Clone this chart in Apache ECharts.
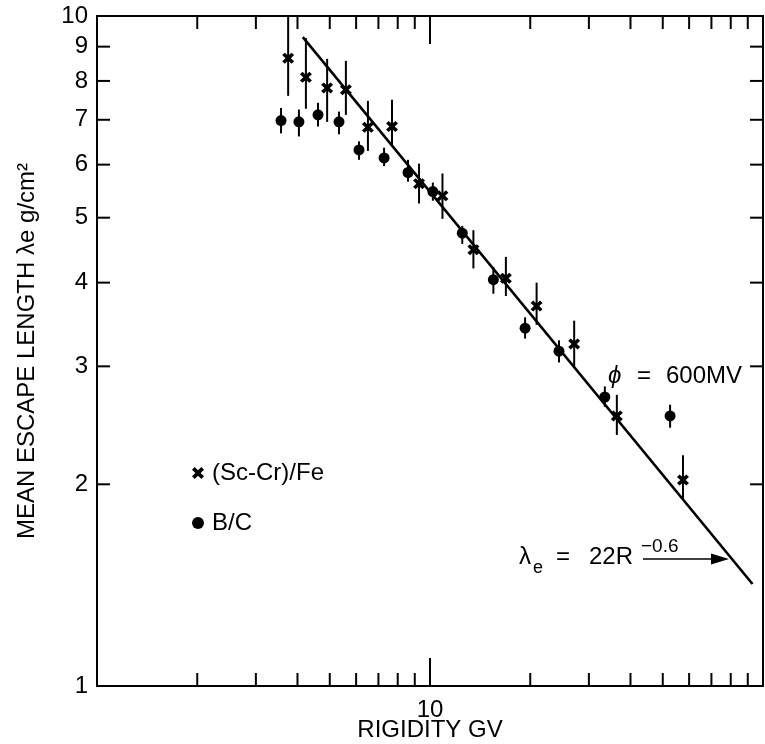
<!DOCTYPE html>
<html><head><meta charset="utf-8">
<script src="https://cdn.jsdelivr.net/npm/echarts@6/dist/echarts.min.js"></script>
<style>html,body{margin:0;padding:0;background:#fff}#c{width:765px;height:744px}</style>
</head><body><div id="c"></div>
<script>
// (Sc-Cr)/Fe : rigidity (GV), mean escape length, error bar low / high
const SCCR_R  = [3.75, 4.24, 4.91, 5.59, 6.51, 7.69, 9.27, 10.9, 13.5, 16.9, 20.9, 27.1, 36.4, 57.5];
const SCCR_L  = [8.65, 8.10, 7.81, 7.76, 6.82, 6.84, 5.62, 5.39, 4.48, 4.06, 3.69, 3.24, 2.53, 2.03];
const SCCR_LO = [7.60, 7.27, 6.95, 7.12, 6.29, 6.39, 5.25, 4.98, 4.20, 3.82, 3.46, 3.00, 2.37, 1.90];
const SCCR_HI = [10.0, 9.27, 8.63, 8.57, 7.47, 7.50, 6.02, 5.82, 4.79, 4.37, 4.00, 3.51, 2.72, 2.21];

// B/C
const BC_R  = [3.57, 4.04, 4.61, 5.33, 6.12, 7.28, 8.59, 10.2, 12.5, 15.5, 19.3, 24.4, 33.5, 52.6];
const BC_L  = [6.98, 6.95, 7.12, 6.95, 6.31, 6.14, 5.84, 5.47, 4.74, 4.04, 3.42, 3.16, 2.70, 2.53];
const BC_LO = [6.68, 6.61, 6.84, 6.66, 6.10, 5.97, 5.66, 5.30, 4.57, 3.85, 3.30, 3.04, 2.61, 2.43];
const BC_HI = [7.29, 7.25, 7.42, 7.20, 6.50, 6.36, 6.10, 5.64, 4.86, 4.22, 3.55, 3.28, 2.80, 2.63];

// fitted line lambda_e = 22 R^-0.6, end points
const FIT_R = [4.15, 93];
const FIT_L = [9.3, 1.42];

// axis ticks
const X_LABELS = [10];
const X_MINOR = [2, 3, 4, 5, 6, 7, 8, 9, 20, 30, 40, 50, 60, 70, 80, 90];
const Y_TICKS = [2, 3, 4, 5, 6, 7, 8, 9];
const Y_LABELS = [1, 2, 3, 4, 5, 6, 7, 8, 9, 10];

const FONT = "'Liberation Sans', Arial, Helvetica, sans-serif";
const BLACK = '#000';

const chart = echarts.init(document.getElementById('c'), null, {renderer: 'canvas'});

function errRender(params, api) {
  const x = api.value(0);
  const p1 = api.coord([x, api.value(1)]);
  const p2 = api.coord([x, api.value(2)]);
  return {type: 'line', shape: {x1: p1[0], y1: p1[1], x2: p2[0], y2: p2[1]},
          style: {stroke: BLACK, lineWidth: 2}};
}
function xMinorRender(params, api) {
  const cs = params.coordSys;
  const p = api.coord([api.value(0), api.value(1)]);
  const L = 13, yb = cs.y + cs.height, yt = cs.y;
  return {type: 'group', children: [
    {type: 'line', shape: {x1: p[0], y1: yb, x2: p[0], y2: yb - L}, style: {stroke: BLACK, lineWidth: 2}},
    {type: 'line', shape: {x1: p[0], y1: yt, x2: p[0], y2: yt + L}, style: {stroke: BLACK, lineWidth: 2}}
  ]};
}
function yTickRender(params, api) {
  const cs = params.coordSys;
  const p = api.coord([api.value(0), api.value(1)]);
  const L = 13, xl = cs.x, xr = cs.x + cs.width;
  return {type: 'group', children: [
    {type: 'line', shape: {x1: xl, y1: p[1], x2: xl + L, y2: p[1]}, style: {stroke: BLACK, lineWidth: 2}},
    {type: 'line', shape: {x1: xr, y1: p[1], x2: xr - L, y2: p[1]}, style: {stroke: BLACK, lineWidth: 2}}
  ]};
}
function yLabelRender(params, api) {
  const cs = params.coordSys;
  const p = api.coord([api.value(0), api.value(1)]);
  return {type: 'text', x: cs.x - 9, y: p[1],
          style: {text: String(api.value(1)), fill: BLACK, font: '24px ' + FONT,
                  align: 'right', verticalAlign: 'middle'}};
}

const CROSS = 'path://M0,2.2L2.2,0L5,2.8L7.8,0L10,2.2L7.2,5L10,7.8L7.8,10L5,7.2L2.2,10L0,7.8L2.8,5Z';

const option = {
  animation: false,
  backgroundColor: '#fff',
  textStyle: {fontFamily: FONT, color: BLACK},
  grid: {left: 97, right: 2, top: 16, bottom: 58, containLabel: false, outerBoundsMode: 'none'},
  legend: {
    data: ['(Sc-Cr)/Fe', 'B/C'],
    orient: 'vertical', left: 192, top: 461, padding: 0,
    itemWidth: 12, itemHeight: 12, itemGap: 26,
    textStyle: {fontFamily: FONT, fontSize: 24, color: BLACK, lineHeight: 24, padding: [0, 0, 0, 3]},
    selectedMode: false
  },
  xAxis: [
    {type: 'log', logBase: 10, min: 1, max: 100, position: 'bottom',
     axisLine: {show: true, lineStyle: {color: BLACK, width: 2}},
     axisTick: {show: true, inside: true, length: 28, lineStyle: {color: BLACK, width: 2}},
     axisLabel: {show: true, margin: 12, fontSize: 24, fontFamily: FONT, color: BLACK,
                 formatter: v => X_LABELS.some(l => Math.abs(l - v) < 1e-6) ? String(Math.round(v)) : ''},
     splitLine: {show: false}, minorTick: {show: false},
     name: 'RIGIDITY GV', nameLocation: 'middle', nameGap: 32, nameMoveOverlap: false,
     nameTextStyle: {fontSize: 24, fontFamily: FONT, color: BLACK}},
    {type: 'log', logBase: 10, min: 1, max: 100, position: 'top',
     axisLine: {show: true, lineStyle: {color: BLACK, width: 2}},
     axisTick: {show: true, inside: true, length: 28, lineStyle: {color: BLACK, width: 2}},
     axisLabel: {show: false}, splitLine: {show: false}}
  ],
  yAxis: [
    {type: 'log', logBase: 10, min: 1, max: 10, position: 'left',
     axisLine: {show: true, lineStyle: {color: BLACK, width: 2}},
     axisTick: {show: false}, axisLabel: {show: false}, splitLine: {show: false},
     name: 'MEAN ESCAPE LENGTH λe g/cm²', nameLocation: 'middle', nameGap: 58, nameRotate: 90,
     nameMoveOverlap: false,
     nameTextStyle: {fontSize: 24, fontFamily: FONT, color: BLACK}},
    {type: 'log', logBase: 10, min: 1, max: 10, position: 'right',
     axisLine: {show: true, lineStyle: {color: BLACK, width: 2}},
     axisTick: {show: false}, axisLabel: {show: false}, splitLine: {show: false}}
  ],
  series: [
    {type: 'custom', name: 'ticksX', renderItem: xMinorRender, clip: false, silent: true,
     data: X_MINOR.map(v => [v, 1])},
    {type: 'custom', name: 'ticksY', renderItem: yTickRender, clip: false, silent: true,
     data: Y_TICKS.map(v => [1, v])},
    {type: 'custom', name: 'labelsY', renderItem: yLabelRender, clip: false, silent: true,
     data: Y_LABELS.map(v => [1, v])},
    {type: 'custom', name: 'errSc', renderItem: errRender, clip: false, silent: true,
     data: SCCR_R.map((r, i) => [r, SCCR_LO[i], SCCR_HI[i]])},
    {type: 'custom', name: 'errBC', renderItem: errRender, clip: false, silent: true,
     data: BC_R.map((r, i) => [r, BC_LO[i], BC_HI[i]])},
    {type: 'line', name: 'fit', data: FIT_R.map((r, i) => [r, FIT_L[i]]),
     showSymbol: false, symbol: 'none', lineStyle: {color: BLACK, width: 2.6}, silent: true},
    {type: 'scatter', name: '(Sc-Cr)/Fe', data: SCCR_R.map((r, i) => [r, SCCR_L[i]]),
     symbol: CROSS, symbolSize: [12, 11], itemStyle: {color: BLACK, opacity: 1}},
    {type: 'scatter', name: 'B/C', data: BC_R.map((r, i) => [r, BC_L[i]]),
     symbol: 'circle', symbolSize: 11, itemStyle: {color: BLACK, opacity: 1}}
  ],
  graphic: [
    {type: 'text', left: 608, top: 364, style: {text: 'ϕ', font: 'italic 24px ' + FONT, fill: BLACK}},
    {type: 'text', left: 637, top: 364, style: {text: '=', font: '24px ' + FONT, fill: BLACK}},
    {type: 'text', left: 666, top: 364, style: {text: '600MV', font: '24px ' + FONT, fill: BLACK}},
    {type: 'text', left: 519, top: 545, style: {text: 'λ', font: '24px ' + FONT, fill: BLACK}},
    {type: 'text', left: 533, top: 559, style: {text: 'e', font: '18px ' + FONT, fill: BLACK}},
    {type: 'text', left: 556, top: 545, style: {text: '=', font: '24px ' + FONT, fill: BLACK}},
    {type: 'text', left: 589, top: 545, style: {text: '22R', font: '24px ' + FONT, fill: BLACK}},
    {type: 'text', left: 641, top: 537, style: {text: '−0.6', font: '19px ' + FONT, fill: BLACK}},
    {type: 'line', shape: {x1: 643, y1: 559, x2: 716, y2: 559}, style: {stroke: BLACK, lineWidth: 1.5}},
    {type: 'polygon', shape: {points: [[711, 553.5], [729, 559], [711, 564.5]]}, style: {fill: BLACK}}
  ]
};
chart.setOption(option);
</script>
</body></html>
